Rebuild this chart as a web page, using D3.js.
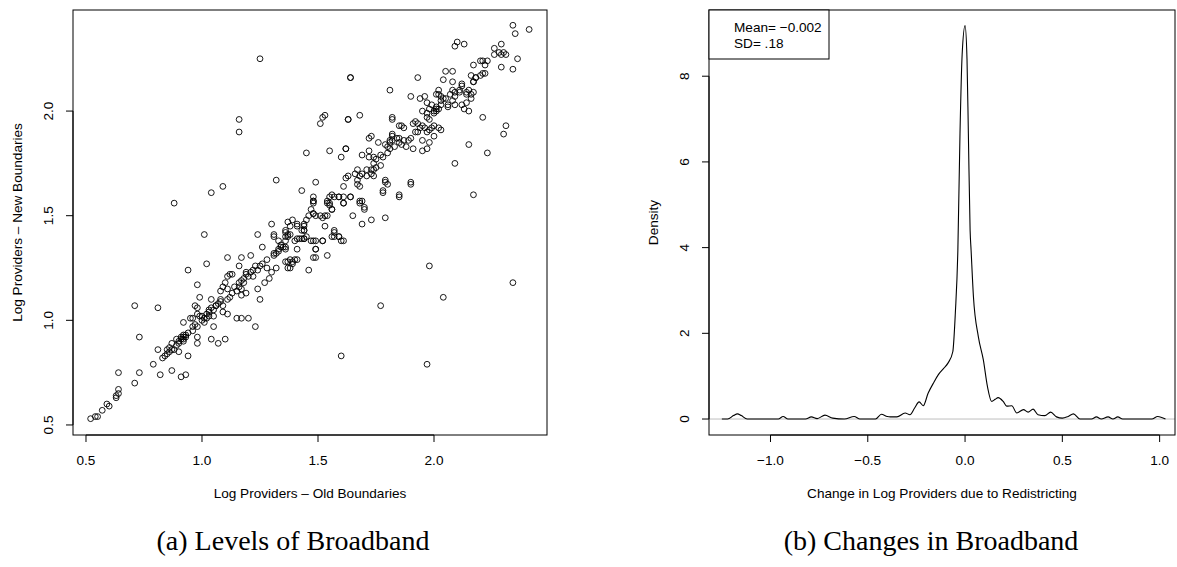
<!DOCTYPE html>
<html>
<head>
<meta charset="utf-8">
<script src="https://cdn.jsdelivr.net/npm/d3@7"></script>
<style>
  body { margin: 0; background: #fff; }
  svg { display: block; }
  .rtext { font-family: "Liberation Sans", Arial, Helvetica, sans-serif; font-size: 13.6px; fill: #000; }
  .caption { font-family: "Liberation Serif", "Times New Roman", serif; font-size: 28px; fill: #000; }
</style>
</head>
<body>
<div id="chart"></div>
<script>
// ---- data: panel (a), log providers old vs new boundaries ----
var oldB = [
  0.52,0.54,0.55,0.57,0.59,0.60,0.63,0.63,0.64,0.64,0.64,0.71,0.73,0.71,0.73,0.79,0.81,0.81,0.82,0.84,
  0.85,0.86,0.87,0.85,0.87,0.88,0.87,0.90,0.89,0.91,0.91,0.92,0.93,0.92,0.92,0.90,0.91,0.93,0.92,0.94,
  0.94,0.88,0.83,0.86,0.89,0.90,0.93,0.94,0.92,
  0.95,0.96,0.96,0.97,0.98,0.96,0.98,0.98,0.98,0.97,0.98,0.99,0.98,0.99,1.00,1.01,1.01,1.02,1.02,1.03,
  1.03,1.04,1.05,1.01,1.02,1.05,1.04,1.07,1.04,1.06,1.06,1.07,1.08,1.08,1.09,1.09,1.08,1.09,1.10,1.10,
  1.11,1.11,1.11,1.12,1.13,1.11,1.12,1.11,1.15,1.17,1.20,1.23,1.15,1.17,1.16,1.17,1.18,1.19,1.16,1.17,
  1.21,1.19,1.20,1.21,1.22,1.23,1.24,1.25,1.26,1.17,1.19,1.24,1.25,1.24,1.26,1.28,1.28,
  1.00,1.03,1.05,1.13,1.14,1.18,1.22,1.16,
  1.16,1.16,1.25,1.32,1.04,1.09,
  1.31,1.33,1.34,1.35,1.36,1.36,1.37,1.31,1.32,1.33,1.33,1.34,1.36,1.36,1.38,1.37,1.36,1.39,1.40,1.41,
  1.40,1.32,1.49,1.46,1.41,1.39,1.37,1.38,1.54,1.56,1.57,1.59,1.61,1.47,1.49,1.49,1.52,1.44,1.44,1.31,
  1.30,1.37,1.39,1.41,1.41,1.44,1.44,1.45,1.44,1.43,1.38,1.36,1.36,1.37,1.38,1.41,1.43,1.45,1.46,1.48,
  1.49,1.47,1.48,1.48,1.53,1.54,1.55,1.56,1.49,1.48,1.30,1.29,1.27,1.31,
  1.55,1.62,1.60,1.63,1.68,1.64,1.81,1.82,1.76,1.73,1.72,1.72,1.69,1.74,1.75,1.77,1.78,1.80,1.77,1.75,
  1.74,1.73,1.71,1.74,1.73,1.71,1.67,1.66,1.68,1.69,1.67,1.67,1.68,1.63,1.62,1.61,1.64,1.61,1.56,1.59,
  1.69,1.68,1.70,1.74,1.78,1.79,1.80,1.85,1.90,1.55,
  1.48,1.48,1.54,1.55,1.57,1.59,1.61,1.61,1.64,1.68,1.70,1.65,1.69,1.73,1.79,1.85,1.90,1.79,1.78,1.48,
  1.51,1.52,1.54,1.56,1.53,1.42,1.44,1.48,1.52,1.57,1.57,1.59,1.60,1.62,1.63,1.45,1.49,1.43,1.51,1.52,
  1.53,1.72,1.82,1.85,1.86,1.87,
  1.91,1.92,1.93,1.94,1.93,1.92,1.95,1.97,1.96,1.98,1.99,2.00,1.98,2.01,2.00,2.01,2.02,2.03,2.00,1.97,
  1.95,1.98,1.97,1.95,1.91,1.88,1.87,1.85,1.84,1.82,1.82,1.85,1.86,1.83,1.81,1.80,1.81,1.81,1.79,1.82,
  1.90,1.89,1.90,1.94,1.96,1.97,1.99,1.98,1.95,1.97,2.00,2.02,2.01,2.03,2.03,2.02,2.04,2.06,
  2.08,2.09,2.11,2.07,2.09,2.08,2.05,2.06,2.09,2.02,2.01,2.03,2.08,2.12,2.12,2.11,2.14,2.15,2.16,2.17,
  2.14,2.16,2.14,2.12,2.13,2.15,2.17,2.16,2.18,2.18,2.17,2.05,2.08,2.04,2.20,2.21,2.23,2.22,2.22,2.21,
  2.20,2.17,2.09,2.10,2.13,2.26,2.29,2.26,2.28,2.29,2.31,2.30,2.36,2.29,2.34,2.34,2.35,2.41,
  2.21,2.31,2.30,2.15,2.23,2.09,2.17,1.98,2.34,2.04,1.77,1.60,1.97,1.93,1.64
];
var newB = [
  0.53,0.54,0.54,0.57,0.60,0.59,0.63,0.64,0.65,0.67,0.75,0.70,0.75,1.07,0.92,0.79,1.06,0.86,0.74,0.83,
  0.84,0.85,0.86,0.86,0.89,0.86,0.76,0.85,0.91,0.91,0.92,0.93,0.93,0.91,0.90,0.89,0.73,0.74,0.99,0.83,
  1.24,1.56,0.82,0.87,0.88,0.90,0.92,0.94,0.92,
  1.01,1.01,0.97,0.98,0.97,0.95,0.92,0.89,1.17,1.07,1.06,1.11,1.03,1.02,1.00,0.99,1.01,1.01,1.03,1.04,
  1.05,1.06,1.02,1.41,1.27,0.97,0.91,0.89,1.10,1.07,1.07,1.08,1.10,1.09,1.07,1.04,1.14,1.16,1.18,0.91,
  1.03,1.30,1.21,1.22,1.22,1.15,1.11,1.10,1.01,1.01,1.01,0.97,1.14,1.15,1.18,1.19,1.20,1.22,1.26,1.30,
  1.31,1.23,1.21,1.23,1.24,1.26,1.24,1.26,1.27,1.12,1.13,1.15,1.10,1.41,1.35,1.29,1.25,
  1.02,1.02,1.05,1.13,1.16,1.18,1.21,1.16,
  1.90,1.96,2.25,1.67,1.61,1.64,
  1.40,1.38,1.36,1.35,1.38,1.40,1.41,1.32,1.32,1.33,1.34,1.35,1.35,1.34,1.29,1.25,1.28,1.28,1.29,1.34,
  1.38,1.25,1.30,1.24,1.29,1.27,1.28,1.25,1.31,1.40,1.42,1.40,1.38,1.38,1.38,1.34,1.38,1.43,1.39,1.31,
  1.46,1.47,1.48,1.46,1.45,1.46,1.45,1.48,1.43,1.43,1.45,1.43,1.42,1.40,1.41,1.39,1.39,1.40,1.50,1.51,
  1.50,1.53,1.56,1.57,1.50,1.56,1.56,1.53,1.34,1.30,1.23,1.20,1.18,1.41,
  1.81,1.82,1.78,1.96,1.98,2.16,2.10,1.96,1.85,1.88,1.81,1.78,1.79,1.78,1.77,1.79,1.78,1.80,1.74,1.73,
  1.75,1.72,1.72,1.72,1.70,1.69,1.72,1.70,1.69,1.70,1.67,1.65,1.64,1.69,1.68,1.64,1.59,1.56,1.60,1.59,
  1.57,1.56,1.54,1.69,1.62,1.67,1.65,1.60,1.66,1.55,
  1.59,1.57,1.57,1.59,1.59,1.59,1.59,1.56,1.59,1.57,1.53,1.50,1.46,1.48,1.49,1.59,1.65,1.66,1.61,1.51,
  1.50,1.49,1.50,1.53,1.45,1.39,1.39,1.38,1.38,1.43,1.40,1.40,1.38,1.82,1.96,1.80,1.66,1.62,1.94,1.97,
  1.98,1.87,1.97,1.93,1.93,1.92,
  1.94,1.95,1.94,1.92,1.90,1.90,1.93,1.97,1.92,1.91,1.92,1.93,1.96,2.01,1.99,2.00,1.92,1.91,1.88,1.90,
  1.86,1.85,1.82,1.81,1.82,1.83,1.86,1.87,1.87,1.88,1.86,1.85,1.84,1.83,1.82,1.83,1.85,1.86,1.84,1.89,
  1.87,1.86,2.07,2.06,2.07,2.04,2.03,2.01,2.00,1.99,2.00,2.01,2.02,2.03,2.05,2.08,2.06,2.02,
  2.10,2.09,2.09,2.08,2.07,2.05,2.06,2.03,2.03,2.10,2.08,2.07,2.14,2.13,2.12,2.10,2.09,2.10,2.08,2.09,
  2.08,2.06,2.04,2.03,2.01,2.00,2.14,2.17,2.16,2.16,2.14,2.19,2.19,2.15,2.24,2.24,2.24,2.22,2.18,2.18,
  2.17,2.22,2.31,2.33,2.32,2.30,2.32,2.27,2.28,2.27,2.27,2.28,2.25,2.21,2.20,2.41,2.37,2.39,
  1.97,1.93,1.89,1.84,1.80,1.75,1.60,1.26,1.18,1.11,1.07,0.83,0.79,2.16,2.16
];

// ---- data: panel (b), density of change in log providers ----
var densX = [-1.25,-1.22,-1.19,-1.17,-1.15,-1.12,-1.00,-0.96,-0.935,-0.91,-0.82,-0.79,-0.76,-0.72,-0.68,-0.62,
  -0.57,-0.54,-0.46,-0.43,-0.40,-0.385,-0.35,-0.308,-0.283,-0.26,-0.236,-0.215,-0.19,-0.16,-0.138,-0.11,
  -0.087,-0.063,-0.05,-0.037,-0.026,-0.015,0.0,0.01,0.017,0.026,0.031,0.043,0.068,0.094,0.115,0.137,
  0.155,0.17,0.196,0.214,0.24,0.266,0.30,0.324,0.35,0.375,0.41,0.44,0.47,0.50,0.53,0.557,0.59,0.65,
  0.675,0.70,0.735,0.76,0.785,0.81,0.96,0.99,1.03];
var densY = [0,0,0.08,0.12,0.08,0,0,0,0.06,0,0,0.05,0.01,0.09,0.02,0,
  0.06,0,0,0.11,0.06,0.05,0.05,0.14,0.10,0.25,0.40,0.31,0.60,0.86,1.03,1.18,
  1.31,1.57,2.47,3.94,6.67,8.5,9.18,8.4,6.67,4.4,3.94,2.86,1.93,1.38,0.76,0.41,
  0.46,0.50,0.41,0.30,0.31,0.14,0.22,0.16,0.23,0.10,0.08,0.16,0.05,0.02,0.06,0.12,0,0,
  0.05,0,0.05,0,0.05,0,0,0.06,0];

var ticksA = [0.5, 1.0, 1.5, 2.0];
var ticksBx = [-1.0, -0.5, 0.0, 0.5, 1.0];
var ticksBy = [0, 2, 4, 6, 8];
var legendLines = ["Mean= \u22120.002", "SD= .18"];
var captions = ["(a) Levels of Broadband", "(b) Changes in Broadband"];

var W = 1177, H = 567;
var svg = d3.select("#chart").append("svg")
  .attr("width", W)
  .attr("height", H);

var fmt1 = d => d3.format(".1f")(d).replace("-", "\u2212");

// draw one R-style axis by hand (ticks outward, labels at line 1)
function rAxisBottom(g, scale, ticks, y0, f) {
  g.append("line")
    .attr("x1", scale(ticks[0])).attr("x2", scale(ticks[ticks.length - 1]))
    .attr("y1", y0).attr("y2", y0)
    .attr("stroke", "#000");
  g.selectAll(null).data(ticks).join("line")
    .attr("x1", d => scale(d)).attr("x2", d => scale(d))
    .attr("y1", y0).attr("y2", y0 + 7)
    .attr("stroke", "#000");
  g.selectAll(null).data(ticks).join("text")
    .attr("class", "rtext")
    .attr("x", d => scale(d))
    .attr("y", y0 + 30)
    .attr("text-anchor", "middle")
    .text(f);
}
function rAxisLeft(g, scale, ticks, x0, f) {
  g.append("line")
    .attr("y1", scale(ticks[0])).attr("y2", scale(ticks[ticks.length - 1]))
    .attr("x1", x0).attr("x2", x0)
    .attr("stroke", "#000");
  g.selectAll(null).data(ticks).join("line")
    .attr("y1", d => scale(d)).attr("y2", d => scale(d))
    .attr("x1", x0).attr("x2", x0 - 7)
    .attr("stroke", "#000");
  g.selectAll(null).data(ticks).join("text")
    .attr("class", "rtext")
    .attr("transform", d => `translate(${x0 - 25},${scale(d)}) rotate(-90)`)
    .attr("text-anchor", "middle")
    .attr("dy", "0.35em")
    .text(f);
}

// ---------- panel (a): scatter ----------
var a = {left: 73, right: 547, top: 10, bottom: 435};
var xA = d3.scaleLinear().domain([0.444, 2.487]).range([a.left, a.right]);
var yA = d3.scaleLinear().domain([0.452, 2.483]).range([a.bottom, a.top]);

var gA = svg.append("g");
var pts = oldB.map((d, i) => ({x: d, y: newB[i]}));

gA.append("g")
  .selectAll("circle")
  .data(pts)
  .join("circle")
    .attr("cx", d => xA(d.x))
    .attr("cy", d => yA(d.y))
    .attr("r", 2.9)
    .attr("fill", "none")
    .attr("stroke", "#000")
    .attr("stroke-width", 0.9);

gA.append("rect")
  .attr("x", a.left).attr("y", a.top)
  .attr("width", a.right - a.left).attr("height", a.bottom - a.top)
  .attr("fill", "none").attr("stroke", "#000");

rAxisBottom(gA, xA, ticksA, a.bottom, fmt1);
rAxisLeft(gA, yA, ticksA, a.left, fmt1);

gA.append("text").attr("class", "rtext")
  .attr("x", (a.left + a.right) / 2).attr("y", 498)
  .attr("text-anchor", "middle")
  .text("Log Providers \u2013 Old Boundaries");
gA.append("text").attr("class", "rtext")
  .attr("transform", `translate(22,${(a.top + a.bottom) / 2}) rotate(-90)`)
  .attr("text-anchor", "middle")
  .text("Log Providers \u2013 New Boundaries");

// ---------- panel (b): density ----------
var b = {left: 709, right: 1175, top: 10, bottom: 435};
var xB = d3.scaleLinear().domain([-1.316, 1.079]).range([b.left, b.right]);
var yB = d3.scaleLinear().domain([-0.373, 9.545]).range([b.bottom, b.top]);

var gB = svg.append("g");

gB.append("line")
  .attr("x1", b.left).attr("x2", b.right)
  .attr("y1", yB(0)).attr("y2", yB(0))
  .attr("stroke", "#bebebe");

var dens = densX.map((d, i) => ({x: d, y: densY[i]}));
var line = d3.line()
  .x(d => xB(d.x))
  .y(d => yB(d.y))
  .curve(d3.curveMonotoneX);

gB.append("path")
  .datum(dens)
  .attr("d", line)
  .attr("fill", "none")
  .attr("stroke", "#000")
  .attr("stroke-width", 1.1);

gB.append("rect")
  .attr("x", b.left).attr("y", b.top)
  .attr("width", b.right - b.left).attr("height", b.bottom - b.top)
  .attr("fill", "none").attr("stroke", "#000");

rAxisBottom(gB, xB, ticksBx, b.bottom, fmt1);
rAxisLeft(gB, yB, ticksBy, b.left, d => d);

gB.append("text").attr("class", "rtext")
  .attr("x", (b.left + b.right) / 2).attr("y", 498)
  .attr("text-anchor", "middle")
  .text("Change in Log Providers due to Redistricting");
gB.append("text").attr("class", "rtext")
  .attr("transform", `translate(658,${(b.top + b.bottom) / 2}) rotate(-90)`)
  .attr("text-anchor", "middle")
  .text("Density");

// legend box top-left
gB.append("rect")
  .attr("x", b.left).attr("y", b.top)
  .attr("width", 120).attr("height", 49)
  .attr("fill", "#fff").attr("stroke", "#000");
gB.selectAll(null).data(legendLines).join("text")
  .attr("class", "rtext")
  .attr("x", b.left + 25)
  .attr("y", (d, i) => 32 + i * 16)
  .text(d => d);

// ---------- captions ----------
svg.selectAll(".caption").data(captions).join("text")
  .attr("class", "caption")
  .attr("x", (d, i) => i === 0 ? 293 : 931)
  .attr("y", 550)
  .attr("text-anchor", "middle")
  .text(d => d);
</script>
</body>
</html>
